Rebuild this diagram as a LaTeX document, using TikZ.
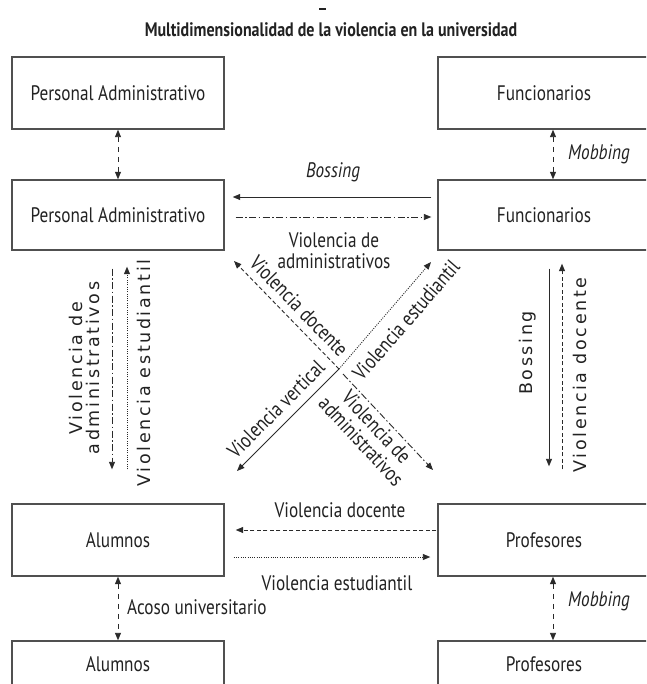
\documentclass[tikz,border=0pt]{standalone}
\usepackage{fontspec}
\setmainfont{PT Sans}[FakeStretch=0.82]
\newfontfamily\vfont{DejaVu Sans}[LetterSpace=15]
\usetikzlibrary{arrows.meta}
\definecolor{txt}{HTML}{222222}
\definecolor{linec}{HTML}{2a2a2a}
\definecolor{boxc}{HTML}{505050}
\begin{document}
\begin{tikzpicture}[x=1pt,y=-1pt,
  box/.style={draw=boxc, line width=1.4pt, minimum width=212pt, minimum height=72pt, inner sep=0pt, text=txt, font=\fontsize{21}{24}\selectfont},
  lbl/.style={text=txt, inner sep=0pt, font=\fontsize{21}{22}\selectfont, align=center},
  ilbl/.style={lbl, font=\fontsize{21}{22}\selectfont\itshape},
  vlbl/.style={text=txt, inner sep=0pt, font=\vfont\fontsize{17.5}{18}\selectfont, align=center, rotate=90},
  tip/.tip={Triangle[length=7.5pt,width=6pt]},
  arr/.style={-tip, line width=0.9pt, draw=linec},
  dbl/.style={tip-tip, line width=0.9pt, draw=linec, dash pattern=on 5pt off 5pt},
  ddot/.style={dash pattern=on 7pt off 2.5pt on 1.5pt off 2.5pt},
  dott/.style={dash pattern=on 1pt off 1.3pt},
  dsh/.style={dash pattern=on 4pt off 2.5pt}
]
\fill[white] (0,0) rectangle (646,684);
\clip (0,0) rectangle (646,684);

% title
\node[text=txt, font=\fontsize{19.5}{21}\selectfont\bfseries] (title) at (331,30) {Multidimensionalidad de la violencia en la universidad};
\draw[line width=1.5pt, txt] (319,9) -- (326,9);

% boxes
\node[box] (PA1) at (118,93) {Personal Administrativo};
\node[box] (F1) at (544,93) {Funcionarios};
\node[box, minimum height=70pt] (PA2) at (118,215) {Personal Administrativo};
\node[box, minimum height=70pt] (F2) at (544,215) {Funcionarios};
\node[box] (AL1) at (118,540) {Alumnos};
\node[box] (PR1) at (544,540) {Profesores};
\node[box, minimum height=46pt] (AL2) at (118,664) {Alumnos};
\node[box, minimum height=46pt] (PR2) at (544,664) {Profesores};

% row connectors
\draw[dbl] (PA1.south) -- (PA2.north);
\draw[dbl] ([xshift=9pt]F1.south) -- ([xshift=9pt]F2.north);
\draw[dbl] (AL1.south) -- (AL2.north);
\draw[dbl] ([xshift=9pt]PR1.south) -- ([xshift=9pt]PR2.north);
\node[ilbl, anchor=west] (mob1) at (568,154) {Mobbing};
\node[ilbl, anchor=west] (mob2) at (568,601) {Mobbing};
\node[lbl, anchor=west] (acoso) at (127,607) {Acoso universitario};

% horizontal top
\draw[arr, shorten <=6pt, shorten >=8pt] ([yshift=18pt]F2.west) -- ([yshift=18pt]PA2.east);
\draw[arr, ddot, shorten <=11pt, shorten >=6pt] ([yshift=-2pt]PA2.east) -- ([yshift=-2pt]F2.west);
\node[ilbl] (boss1) at (333,172) {Bossing};
\node[lbl] (vadm1) at (334,251) {Violencia de\\[-1pt]administrativos};

% horizontal bottom
\draw[arr, dsh, shorten <=1pt, shorten >=11pt] ([yshift=10pt]PR1.west) -- ([yshift=10pt]AL1.east);
\draw[arr, dott, shorten <=9pt, shorten >=7pt] ([yshift=-17pt]AL1.east) -- ([yshift=-17pt]PR1.west);
\node[lbl] (vdoc1) at (340,510) {Violencia docente};
\node[lbl] (vest1) at (337,583) {Violencia estudiantil};

% verticals left
\draw[arr, ddot, shorten <=18pt, shorten >=34pt] ([xshift=-6pt]PA2.south) -- ([xshift=-6pt]AL1.north);
\draw[arr, dott, shorten <=34pt, shorten >=16pt] ([xshift=9pt]AL1.north) -- ([xshift=9pt]PA2.south);
\node[vlbl] (vadm2) at (84,368) {Violencia de\\[-1pt]administrativos};
\node[vlbl] (vest2) at (144,373) {Violencia estudiantil};

% verticals right
\draw[arr, shorten <=18pt, shorten >=37pt] ([xshift=5pt]F2.south) -- ([xshift=5pt]PR1.north);
\draw[arr, dsh, shorten <=34pt, shorten >=13pt] ([xshift=18pt]PR1.north) -- ([xshift=18pt]F2.south);
\node[vlbl] (boss2) at (528,353) {Bossing};
\node[vlbl] (vdoc2) at (580,375) {Violencia docente};

% diagonals
\coordinate (X) at (339,369);
\coordinate (Xb) at (343,374);
\coordinate (TL) at (234,261);
\coordinate (TR) at (431,262);
\coordinate (BL) at (237,471);
\coordinate (BR) at (433,470);
\draw[arr, dsh] (X) -- (TL);
\draw[arr, ddot] (Xb) -- (BR);
\draw[arr] (X) -- (BL);
\draw[arr, dott] (X) -- (TR);
\node[lbl, rotate=-46] (vdoc3) at (299,306) {Violencia docente};
\node[lbl, rotate=49] (vest3) at (406,320) {Violencia estudiantil};
\node[lbl, rotate=45] (vvert) at (276,409) {Violencia vertical};
\node[lbl, rotate=-47] (vadm3) at (369,434) {Violencia de\\[-1pt]administrativos};
\end{tikzpicture}
\end{document}
